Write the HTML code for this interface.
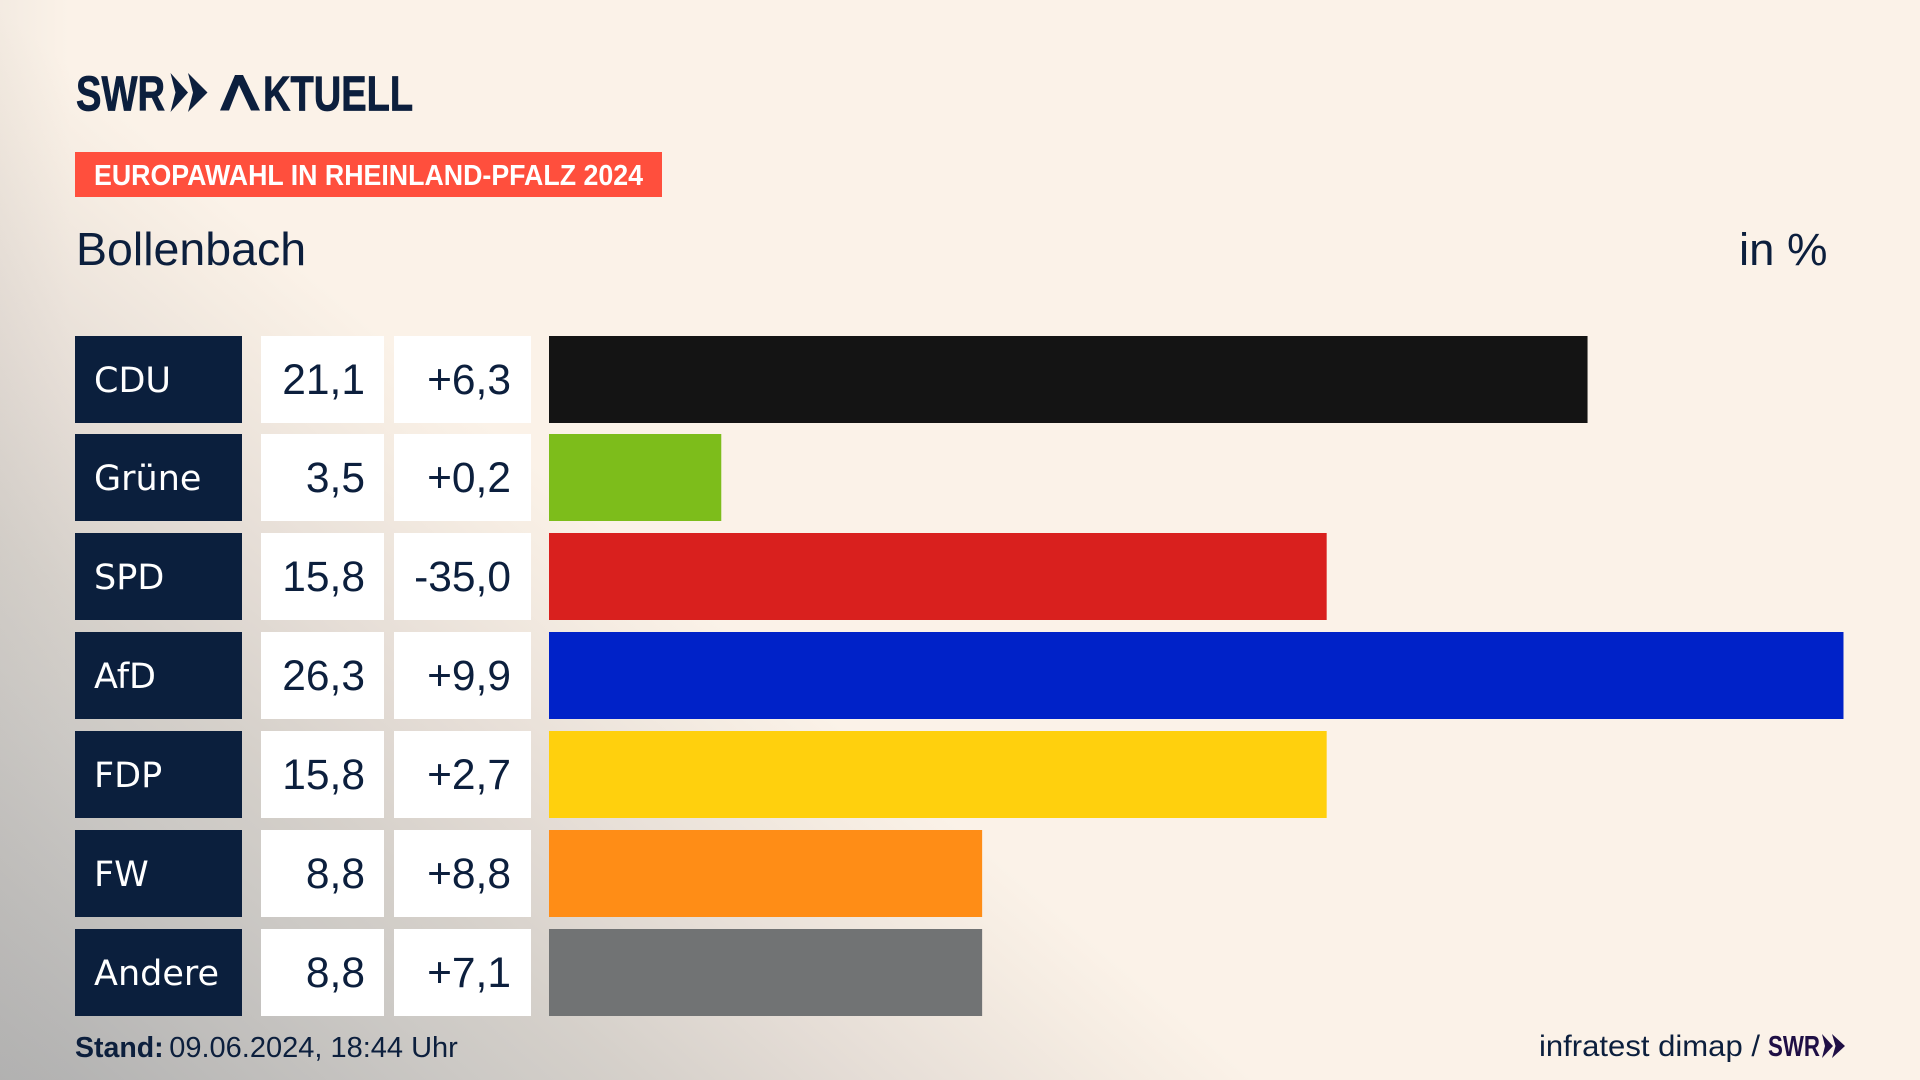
<!DOCTYPE html>
<html lang="de">
<head>
<meta charset="utf-8">
<title>Europawahl in Rheinland-Pfalz 2024 – Bollenbach</title>
<style>
  html, body { margin: 0; padding: 0; width: 1920px; height: 1080px; overflow: hidden; }
  body {
    background-color: #fbf2e8;
    background-image:
      linear-gradient(to right, rgba(190,185,180,0.12), rgba(190,185,180,0) 70px),
      linear-gradient(220.4deg, #fbf2e8 1250px, #f5ece2 1330px, #e5ddd6 1504px, #d5d0ca 1657px, #ccc9c5 1762px, #b0b0b0 2067px);
    font-family: "Liberation Sans", sans-serif;
  }
  svg { display: block; position: absolute; left: 0; top: 0; }
  text { font-family: "Liberation Sans", sans-serif; }
  .ink { fill: #0c1f3d; }
  .party-label { fill: #ffffff; font-size: 35px; font-family: "DejaVu Sans", sans-serif; }
  .num { fill: #0c1f3d; font-size: 42.5px; text-anchor: end; }
  .bar-cdu { fill: #141414; }
  .bar-gruene { fill: #7dbd1b; }
  .bar-spd { fill: #d9201e; }
  .bar-afd { fill: #0022c8; }
  .bar-fdp { fill: #ffd00d; }
  .bar-fw { fill: #ff8d16; }
  .bar-andere { fill: #717374; }
</style>
</head>
<body>
<svg id="chart" width="1920" height="1080" viewBox="0 0 1920 1080" xmlns="http://www.w3.org/2000/svg">
  <g>
    <text class="ink" x="76" y="110.5" font-size="49" font-weight="700" stroke="#0c1f3d" stroke-width="0.8" textLength="89" lengthAdjust="spacingAndGlyphs">SWR</text>
    <path class="ink" d="M170.5 73 L188 92.5 L170.5 112 L175.5 92.5 Z M188 73 L207.5 92.5 L188 112 L193 92.5 Z"/>
    <text class="ink" transform="translate(220,110.5) scale(0.777,1)" font-size="49" font-weight="700" stroke="#0c1f3d" stroke-width="0.8"><tspan style="fill:none;stroke:none">A</tspan><tspan dx="20">KTUELL</tspan></text>
    <path class="ink" d="M220 110.5 L235 75 L243 75 L260 110.5 L251 110.5 L239 85 L229 110.5 Z"/>
  </g>
  <rect x="75" y="152" width="587" height="45" fill="#ff4f3d"/>
  <text x="94" y="185" fill="#fff" font-size="29" font-weight="700" textLength="549" lengthAdjust="spacingAndGlyphs">EUROPAWAHL IN RHEINLAND-PFALZ 2024</text>
  <text class="ink" x="76" y="265" font-size="46.5">Bollenbach</text>
  <text class="ink" x="1739" y="265" font-size="45.5">in %</text>
  <g id="rows"></g>
  <text class="ink" x="75" y="1057" font-size="29"><tspan font-weight="700" font-size="28.5">Stand:</tspan><tspan dx="-2.5"> 09.06.2024, 18:44 Uhr</tspan></text>
  <text class="ink" x="1539" y="1056" font-size="30" textLength="221" lengthAdjust="spacingAndGlyphs">infratest dimap /</text>
  <g>
    <text x="1768" y="1056" fill="#1f0f45" font-size="29" font-weight="700" textLength="52" lengthAdjust="spacingAndGlyphs">SWR</text>
    <path fill="#1f0f45" d="M1822 1034 L1833 1046 L1822 1058 L1825 1046 Z M1832 1034 L1845 1046 L1832 1058 L1835.5 1046 Z"/>
  </g>
</svg>
<script>
const parties = ["CDU", "Grüne", "SPD", "AfD", "FDP", "FW", "Andere"];
const shares = [21.1, 3.5, 15.8, 26.3, 15.8, 8.8, 8.8];
const changes = [6.3, 0.2, -35.0, 9.9, 2.7, 8.8, 7.1];
const partyKeys = ["cdu", "gruene", "spd", "afd", "fdp", "fw", "andere"];

const NS = "http://www.w3.org/2000/svg";
const rowsGroup = document.getElementById("rows");

function xScale(v) { return v * 49.22; }
function yBand(i) { return Math.floor(336 + i * 98.85); }
function formatShare(v) { return v.toFixed(1).replace(".", ","); }
function formatChange(v) { return (v >= 0 ? "+" : "-") + Math.abs(v).toFixed(1).replace(".", ","); }

function makeRect(x, y, w, h) {
  const el = document.createElementNS(NS, "rect");
  el.setAttribute("x", x);
  el.setAttribute("y", y);
  el.setAttribute("width", w);
  el.setAttribute("height", h);
  rowsGroup.appendChild(el);
  return el;
}
function makeText(x, y, cls, str) {
  const el = document.createElementNS(NS, "text");
  el.setAttribute("x", x);
  el.setAttribute("y", y);
  el.setAttribute("class", cls);
  el.textContent = str;
  rowsGroup.appendChild(el);
  return el;
}

parties.forEach(function (party, i) {
  const top = yBand(i);
  const h = 87;
  const base = top + 58;
  const key = partyKeys[i];

  const labelBox = makeRect(75, top, 167, h);
  labelBox.setAttribute("fill", "#0b1f3d");
  
  

  const labelText = makeText(94, base - 2, "party-label", party);
  
  

  const valueBox = makeRect(261, top, 123, h);
  valueBox.setAttribute("fill", "#ffffff");
  
  

  const valueText = makeText(365, base, "num", formatShare(shares[i]));
  
  

  const changeBox = makeRect(394, top, 137, h);
  changeBox.setAttribute("fill", "#ffffff");
  
  

  const changeText = makeText(511, base, "num", formatChange(changes[i]));
  
  

  const bar = makeRect(549, top, xScale(shares[i]), h);
  bar.setAttribute("class", "bar-" + key);
  
  
});
</script>
</body>
</html>
